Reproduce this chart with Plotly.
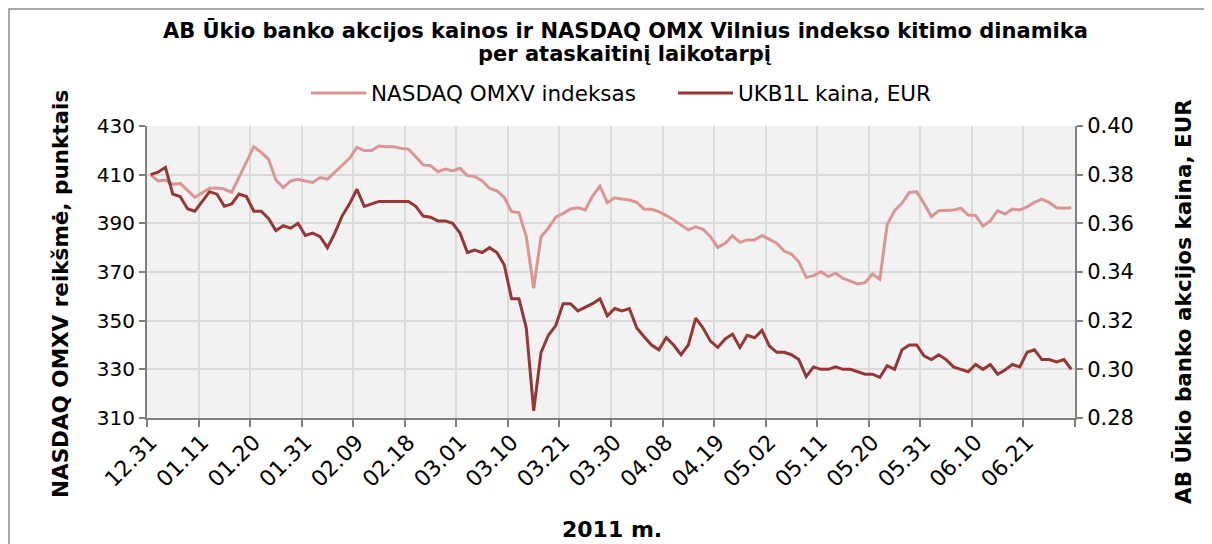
import plotly.graph_objects as go

tick_labels = ["12.31", "01.11", "01.20", "01.31", "02.09", "02.18", "03.01", "03.10", "03.21",
               "03.30", "04.08", "04.19", "05.02", "05.11", "05.20", "05.31", "06.10", "06.21"]

nasdaq_omxv = [
    409.9, 407.4, 407.8, 406.0, 406.4, 403.7, 400.7, 402.6, 404.4, 404.5,
    404.1, 402.7, 408.9, 414.9, 421.5, 419.2, 416.4, 407.8, 404.7, 407.4,
    408.1, 407.4, 406.8, 408.8, 408.2, 411.0, 414.0, 416.7, 421.2, 419.9,
    419.9, 421.8, 421.5, 421.5, 420.8, 420.5, 417.4, 414.0, 413.7, 411.2,
    412.3, 411.5, 412.6, 409.6, 409.2, 407.5, 404.4, 403.4, 400.7, 394.8,
    394.4, 384.5, 363.3, 384.5, 388.0, 392.5, 394.1, 395.9, 396.4, 395.5,
    401.2, 405.3, 398.5, 400.5, 400.0, 399.6, 398.6, 395.8, 395.8, 394.8,
    393.2, 391.5, 389.3, 387.3, 388.6, 387.5, 384.5, 380.1, 381.8, 384.9,
    382.2, 383.2, 383.2, 385.0, 383.4, 381.8, 378.6, 377.4, 374.2, 367.8,
    368.5, 370.1, 368.1, 369.5, 367.4, 366.3, 365.1, 365.6, 369.2, 367.0,
    389.5, 395.2, 398.2, 402.7, 403.0, 398.2, 392.7, 395.2, 395.2, 395.5,
    396.2, 393.4, 393.2, 388.9, 391.0, 395.2, 393.8, 395.9, 395.5, 396.8,
    398.6, 399.9, 398.5, 396.4, 396.2, 396.4]

ukb1l_price = [
    0.380, 0.381, 0.383, 0.372, 0.371, 0.366, 0.365, 0.369, 0.373, 0.372,
    0.367, 0.368, 0.372, 0.371, 0.365, 0.365, 0.362, 0.357, 0.359, 0.358,
    0.360, 0.355, 0.356, 0.3545, 0.350, 0.356, 0.363, 0.368, 0.374, 0.367,
    0.368, 0.369, 0.369, 0.369, 0.369, 0.369, 0.367, 0.363, 0.3625, 0.361,
    0.361, 0.360, 0.356, 0.348, 0.349, 0.348, 0.350, 0.348, 0.343, 0.329,
    0.329, 0.317, 0.283, 0.307, 0.314, 0.318, 0.327, 0.327, 0.324, 0.3255,
    0.327, 0.329, 0.322, 0.325, 0.324, 0.325, 0.317, 0.3134, 0.310, 0.308,
    0.313, 0.310, 0.306, 0.310, 0.321, 0.317, 0.3116, 0.309, 0.3125, 0.3145,
    0.309, 0.314, 0.313, 0.316, 0.3096, 0.307, 0.307, 0.306, 0.304, 0.297,
    0.301, 0.300, 0.300, 0.301, 0.300, 0.300, 0.299, 0.298, 0.298, 0.2967,
    0.3015, 0.300, 0.308, 0.310, 0.310, 0.3055, 0.304, 0.306, 0.304, 0.301,
    0.300, 0.299, 0.302, 0.300, 0.302, 0.298, 0.2997, 0.302, 0.301, 0.307,
    0.308, 0.304, 0.304, 0.303, 0.304, 0.300]

title_lines = ["AB Ūkio banko akcijos kainos ir NASDAQ OMX Vilnius indekso kitimo dinamika",
               "per ataskaitinį laikotarpį"]

LABEL_STEP = 7
n = len(nasdaq_omxv)
xs = list(range(n))
label_pos = [i * LABEL_STEP for i in range(len(tick_labels))]
boundary_pos = [i * LABEL_STEP - 0.5 for i in range(len(tick_labels) + 1)]

FONT = "DejaVu Sans"
LIGHT = "#DB9694"
DARK = "#953735"
AXIS = "#808080"
GRID = "#D9D9D9"

# page offset of the figure (browser body margin)
OFF = 8
FIG_W, FIG_H = 1212, 544
PL, PR, PT, PB = 147, 1075, 126, 418   # plot area in page pixels

fig = go.Figure()
fig.add_trace(go.Scatter(x=xs, y=nasdaq_omxv, name="NASDAQ OMXV indeksas", mode="lines",
                         line=dict(color=LIGHT, width=3), xaxis="x", yaxis="y"))
fig.add_trace(go.Scatter(x=xs, y=ukb1l_price, name="UKB1L kaina, EUR", mode="lines",
                         line=dict(color=DARK, width=3), xaxis="x", yaxis="y2"))
# helper trace so the label axis is drawn
fig.add_trace(go.Scatter(x=[xs[0], xs[-1]], y=[None, None], xaxis="x2", yaxis="y",
                         showlegend=False, hoverinfo="skip", mode="lines"))

W = float(PR - PL)
H = float(PB - PT)
def px_x(p):
    return (p - PL) / W
def px_y(p):
    return (PB - p) / H

xr = [-0.5, n - 0.5]
fig.update_layout(
    width=FIG_W, height=FIG_H,
    margin=dict(l=PL - OFF, r=FIG_W - (PR - OFF), t=PT - OFF, b=FIG_H - (PB - OFF),
                autoexpand=False),
    paper_bgcolor="white", plot_bgcolor="#F2F2F2",
    font=dict(family=FONT, size=20, color="black"),
    legend=dict(orientation="h", x=px_x(306), xanchor="left", xref="paper",
                y=1 - (93 - OFF) / FIG_H, yref="container", yanchor="middle",
                font=dict(size=21.5), itemwidth=55, bgcolor="rgba(0,0,0,0)",
                entrywidth=297, entrywidthmode="pixels"),
    xaxis=dict(range=xr, tickmode="array", tickvals=boundary_pos, showticklabels=False,
               showgrid=True, gridcolor=GRID, gridwidth=1.5, zeroline=False, automargin=False,
               showline=True, linecolor=AXIS, linewidth=2, ticks="outside",
               ticklen=7, tickcolor=AXIS, tickwidth=2, mirror=False),
    xaxis2=dict(range=xr, overlaying="x", side="bottom", anchor="y", tickmode="array",
                tickvals=label_pos, ticktext=tick_labels, tickangle=-45, automargin=False,
                showgrid=False, zeroline=False, showline=False, ticks="",
                tickfont=dict(size=22), ticklabelstandoff=6),
    yaxis=dict(range=[310, 430], tickmode="array", tickvals=[310, 330, 350, 370, 390, 410, 430],
               showgrid=True, gridcolor=GRID, gridwidth=1.5, zeroline=False, automargin=False,
               showline=True, linecolor=AXIS, linewidth=2, ticks="outside", ticklen=6,
               tickcolor=AXIS, tickwidth=2, tickfont=dict(size=20)),
    yaxis2=dict(range=[0.28, 0.40], overlaying="y", side="right", tickmode="array",
                tickvals=[0.28, 0.30, 0.32, 0.34, 0.36, 0.38, 0.40],
                ticktext=["0.28", "0.30", "0.32", "0.34", "0.36", "0.38", "0.40"],
                showgrid=False, zeroline=False, showline=True, linecolor=AXIS, linewidth=2,
                automargin=False,
                ticks="outside", ticklen=6, tickcolor=AXIS, tickwidth=2, tickfont=dict(size=21)),
    showlegend=True,
)

fig.add_annotation(text="<b>" + title_lines[0] + "</b>", xref="paper", yref="paper",
                   x=px_x(625), y=px_y(30), showarrow=False, font=dict(size=21),
                   xanchor="center", yanchor="middle")
fig.add_annotation(text="<b>" + title_lines[1] + "</b>", xref="paper", yref="paper",
                   x=px_x(625), y=px_y(54), showarrow=False, font=dict(size=21),
                   xanchor="center", yanchor="middle")
fig.add_annotation(text="<b>NASDAQ OMXV reikšmė, punktais</b>", textangle=-90,
                   xref="paper", yref="paper", x=px_x(60), y=px_y(294),
                   showarrow=False, font=dict(size=21.5), xanchor="center", yanchor="middle")
fig.add_annotation(text="<b>AB Ūkio banko akcijos kaina, EUR</b>", textangle=-90,
                   xref="paper", yref="paper", x=px_x(1183), y=px_y(302),
                   showarrow=False, font=dict(size=21.5), xanchor="center", yanchor="middle")
fig.add_annotation(text="<b>2011 m.</b>", xref="paper", yref="paper",
                   x=px_x(612), y=px_y(529), showarrow=False, font=dict(size=22),
                   xanchor="center", yanchor="middle")

fig.add_shape(type="rect", xref="paper", yref="paper",
              x0=px_x(9), x1=px_x(1230), y0=px_y(570), y1=px_y(9),
              line=dict(color="#8C8C8C", width=1.5), fillcolor="rgba(0,0,0,0)", layer="below")

fig.write_html("out.html")
